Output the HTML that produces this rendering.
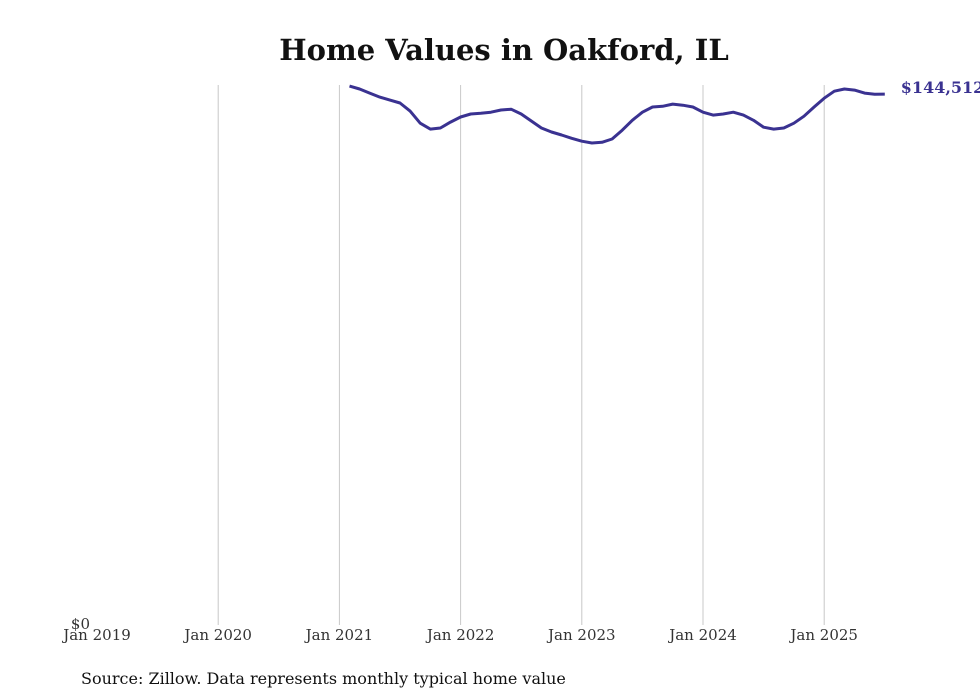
<!DOCTYPE html>
<html><head><meta charset="utf-8"><style>
body{margin:0;background:#fff;}
svg{display:block;font-family:"DejaVu Serif","Liberation Serif",serif;}
</style></head><body>
<svg id="chart" width="980" height="699">
<text x="504" y="60" text-anchor="middle" font-size="29" font-weight="bold" fill="#111">Home Values in Oakford, IL</text>
<g id="grid"></g><g id="xt"></g>
<text x="90" y="629" text-anchor="end" font-size="15" fill="#333">$0</text>
<path id="line" fill="none" stroke="#3a3291" stroke-width="3" stroke-linejoin="round"/>
<text id="endlbl" font-size="16" font-weight="bold" fill="#3a3291"></text>
<text x="81" y="684" font-size="16" fill="#111">Source: Zillow. Data represents monthly typical home value</text>
</svg>
<script>
const tickLabels=["Jan 2019","Jan 2020","Jan 2021","Jan 2022","Jan 2023","Jan 2024","Jan 2025"];
const startMonth=25; // months since Jan 2019 (Feb 2021)
const values=[146700,145900,144800,143700,142900,142100,139900,136600,135000,135300,136900,138300,139100,139300,139600,140200,140400,139100,137200,135300,134200,133400,132500,131700,131200,131400,132300,134700,137400,139600,141000,141200,141800,141500,141000,139600,138800,139100,139600,138800,137400,135500,135000,135300,136600,138500,141000,143400,145300,145900,145600,144800,144500,144512];
const x0=97,pxYear=121.2,yBase=625,yMax=147000,yTop=85;
const X=m=>x0+m*pxYear/12;
const Y=v=>yBase-(v/yMax)*(yBase-yTop);
const ns="http://www.w3.org/2000/svg";
const grid=document.getElementById('grid'),xt=document.getElementById('xt');
tickLabels.forEach((t,i)=>{
  const x=X(i*12);
  if(i>0){const l=document.createElementNS(ns,'line');
  l.setAttribute('x1',x);l.setAttribute('x2',x);l.setAttribute('y1',yTop);l.setAttribute('y2',yBase);
  l.setAttribute('stroke','#c8c8c8');l.setAttribute('stroke-width','1');
  
  
  grid.appendChild(l);}
  const tx=document.createElementNS(ns,'text');
  tx.setAttribute('x',x);tx.setAttribute('y',640);tx.setAttribute('text-anchor','middle');
  tx.setAttribute('font-size','15');tx.setAttribute('fill','#333');tx.textContent=t;
  
  
  xt.appendChild(tx);
});
let d='';
values.forEach((v,i)=>{d+=(i?'L':'M')+X(startMonth+i).toFixed(1)+','+Y(v).toFixed(1);});
document.getElementById('line').setAttribute('d',d);
const last=values[values.length-1];
const el=document.getElementById('endlbl');
el.setAttribute('x',X(startMonth+values.length-1)+16);
el.setAttribute('y',Y(last)-1);
el.textContent='$'+last.toLocaleString('en-US');
</script>
</body></html>
